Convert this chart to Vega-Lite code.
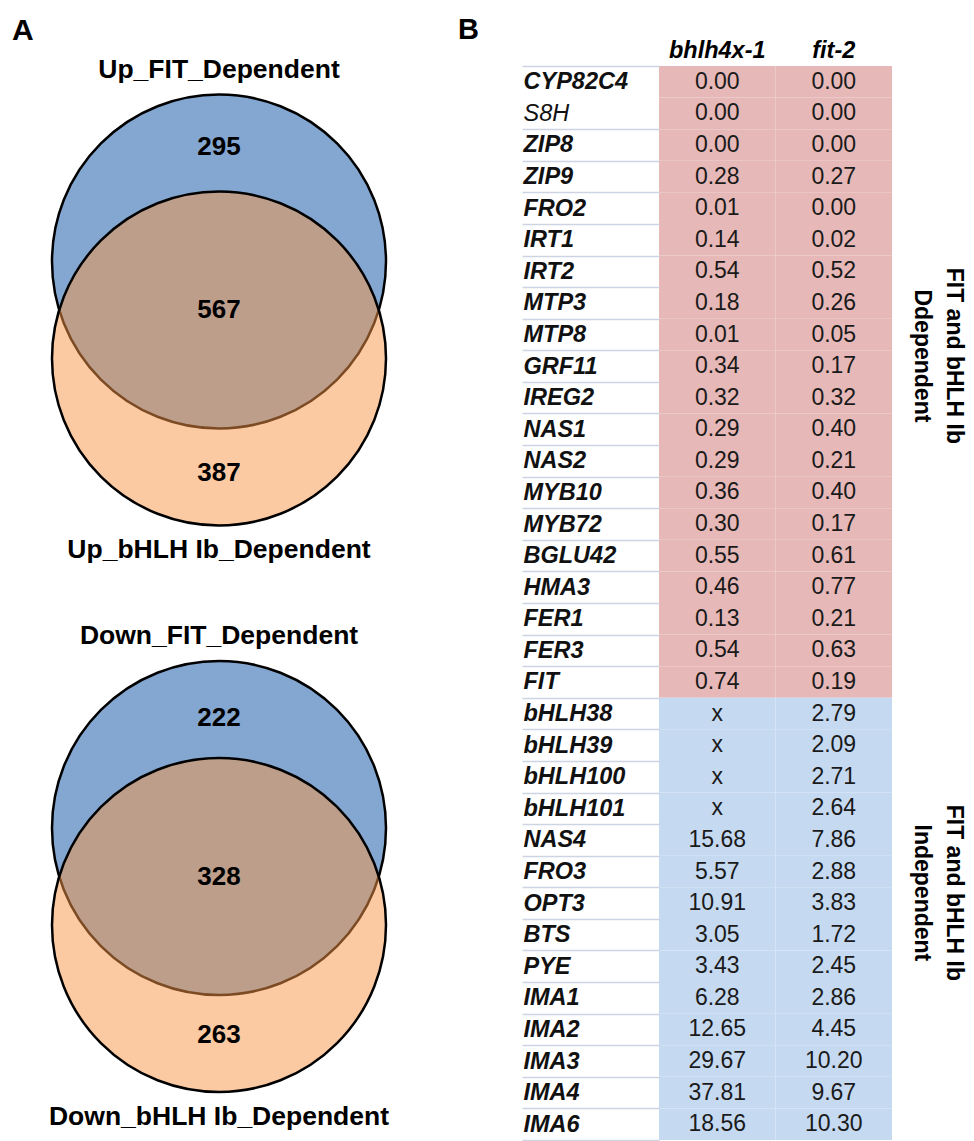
{
  "$schema": "https://vega.github.io/schema/vega-lite/v6.json",
  "padding": {"left": 12, "top": 16, "right": 0, "bottom": 0},
  "background": "white",
  "config": {"font": "Liberation Sans", "view": {"stroke": null}},
  "datasets": {
    "sets": [
      {"diagram": "Up", "set": "FIT", "name": "Up_FIT_Dependent"},
      {"diagram": "Up", "set": "bHLH Ib", "name": "Up_bHLH Ib_Dependent"},
      {"diagram": "Down", "set": "FIT", "name": "Down_FIT_Dependent"},
      {"diagram": "Down", "set": "bHLH Ib", "name": "Down_bHLH Ib_Dependent"}
    ],
    "regions": [
      {"diagram": "Up", "region": "FIT only", "genes": 295},
      {"diagram": "Up", "region": "FIT and bHLH Ib", "genes": 567},
      {"diagram": "Up", "region": "bHLH Ib only", "genes": 387},
      {"diagram": "Down", "region": "FIT only", "genes": 222},
      {"diagram": "Down", "region": "FIT and bHLH Ib", "genes": 328},
      {"diagram": "Down", "region": "bHLH Ib only", "genes": 263}
    ],
    "genes": [
      {"gene": "CYP82C4", "group": "FIT and bHLH Ib\nDdependent", "bhlh4x-1": 0.00, "fit-2": 0.00},
      {"gene": "S8H", "group": "FIT and bHLH Ib\nDdependent", "bhlh4x-1": 0.00, "fit-2": 0.00},
      {"gene": "ZIP8", "group": "FIT and bHLH Ib\nDdependent", "bhlh4x-1": 0.00, "fit-2": 0.00},
      {"gene": "ZIP9", "group": "FIT and bHLH Ib\nDdependent", "bhlh4x-1": 0.28, "fit-2": 0.27},
      {"gene": "FRO2", "group": "FIT and bHLH Ib\nDdependent", "bhlh4x-1": 0.01, "fit-2": 0.00},
      {"gene": "IRT1", "group": "FIT and bHLH Ib\nDdependent", "bhlh4x-1": 0.14, "fit-2": 0.02},
      {"gene": "IRT2", "group": "FIT and bHLH Ib\nDdependent", "bhlh4x-1": 0.54, "fit-2": 0.52},
      {"gene": "MTP3", "group": "FIT and bHLH Ib\nDdependent", "bhlh4x-1": 0.18, "fit-2": 0.26},
      {"gene": "MTP8", "group": "FIT and bHLH Ib\nDdependent", "bhlh4x-1": 0.01, "fit-2": 0.05},
      {"gene": "GRF11", "group": "FIT and bHLH Ib\nDdependent", "bhlh4x-1": 0.34, "fit-2": 0.17},
      {"gene": "IREG2", "group": "FIT and bHLH Ib\nDdependent", "bhlh4x-1": 0.32, "fit-2": 0.32},
      {"gene": "NAS1", "group": "FIT and bHLH Ib\nDdependent", "bhlh4x-1": 0.29, "fit-2": 0.40},
      {"gene": "NAS2", "group": "FIT and bHLH Ib\nDdependent", "bhlh4x-1": 0.29, "fit-2": 0.21},
      {"gene": "MYB10", "group": "FIT and bHLH Ib\nDdependent", "bhlh4x-1": 0.36, "fit-2": 0.40},
      {"gene": "MYB72", "group": "FIT and bHLH Ib\nDdependent", "bhlh4x-1": 0.30, "fit-2": 0.17},
      {"gene": "BGLU42", "group": "FIT and bHLH Ib\nDdependent", "bhlh4x-1": 0.55, "fit-2": 0.61},
      {"gene": "HMA3", "group": "FIT and bHLH Ib\nDdependent", "bhlh4x-1": 0.46, "fit-2": 0.77},
      {"gene": "FER1", "group": "FIT and bHLH Ib\nDdependent", "bhlh4x-1": 0.13, "fit-2": 0.21},
      {"gene": "FER3", "group": "FIT and bHLH Ib\nDdependent", "bhlh4x-1": 0.54, "fit-2": 0.63},
      {"gene": "FIT", "group": "FIT and bHLH Ib\nDdependent", "bhlh4x-1": 0.74, "fit-2": 0.19},
      {"gene": "bHLH38", "group": "FIT and bHLH Ib\nIndependent", "bhlh4x-1": null, "fit-2": 2.79},
      {"gene": "bHLH39", "group": "FIT and bHLH Ib\nIndependent", "bhlh4x-1": null, "fit-2": 2.09},
      {"gene": "bHLH100", "group": "FIT and bHLH Ib\nIndependent", "bhlh4x-1": null, "fit-2": 2.71},
      {"gene": "bHLH101", "group": "FIT and bHLH Ib\nIndependent", "bhlh4x-1": null, "fit-2": 2.64},
      {"gene": "NAS4", "group": "FIT and bHLH Ib\nIndependent", "bhlh4x-1": 15.68, "fit-2": 7.86},
      {"gene": "FRO3", "group": "FIT and bHLH Ib\nIndependent", "bhlh4x-1": 5.57, "fit-2": 2.88},
      {"gene": "OPT3", "group": "FIT and bHLH Ib\nIndependent", "bhlh4x-1": 10.91, "fit-2": 3.83},
      {"gene": "BTS", "group": "FIT and bHLH Ib\nIndependent", "bhlh4x-1": 3.05, "fit-2": 1.72},
      {"gene": "PYE", "group": "FIT and bHLH Ib\nIndependent", "bhlh4x-1": 3.43, "fit-2": 2.45},
      {"gene": "IMA1", "group": "FIT and bHLH Ib\nIndependent", "bhlh4x-1": 6.28, "fit-2": 2.86},
      {"gene": "IMA2", "group": "FIT and bHLH Ib\nIndependent", "bhlh4x-1": 12.65, "fit-2": 4.45},
      {"gene": "IMA3", "group": "FIT and bHLH Ib\nIndependent", "bhlh4x-1": 29.67, "fit-2": 10.20},
      {"gene": "IMA4", "group": "FIT and bHLH Ib\nIndependent", "bhlh4x-1": 37.81, "fit-2": 9.67},
      {"gene": "IMA6", "group": "FIT and bHLH Ib\nIndependent", "bhlh4x-1": 18.56, "fit-2": 10.30}
    ]
  },
  "spacing": 32,
  "resolve": {"scale": {"color": "independent", "fillOpacity": "independent"}},
  "hconcat": [
    {
      "title": {"text": "A", "anchor": "start", "frame": "group", "fontSize": 30, "fontWeight": "bold", "color": "#000000", "offset": 10.5},
      "spacing": 58.5,
      "vconcat": [
        {
          "width": 414,
          "height": 488,
          "resolve": {"scale": {"y": "independent", "yOffset": "independent"}},
          "layer": [
            {
              "data": {"name": "sets"},
              "transform": [{"filter": "datum.diagram === 'Up'"}],
              "mark": {"type": "point", "shape": "circle", "filled": true, "opacity": 1, "size": 111556, "stroke": "#000000", "strokeWidth": 2.5, "strokeOpacity": 1},
              "encoding": {
                "y": {"field": "diagram", "type": "nominal", "scale": {"type": "band", "paddingInner": 0, "paddingOuter": 1}, "axis": null},
                "yOffset": {"field": "set", "type": "nominal", "scale": {"type": "point", "domain": ["FIT", "bHLH Ib"], "padding": 0.3385}},
                "color": {"field": "set", "type": "nominal", "scale": {"domain": ["FIT", "bHLH Ib"], "range": ["#4F81BD", "#F79646"]}, "legend": null},
                "fillOpacity": {"field": "set", "type": "ordinal", "scale": {"domain": ["FIT", "bHLH Ib"], "range": [0.7, 0.5]}, "legend": null}
              }
            },
            {
              "data": {"name": "sets"},
              "transform": [{"filter": "datum.diagram === 'Up'"}],
              "mark": {"type": "text", "fontSize": 26.5, "fontWeight": "bold", "color": "#000000"},
              "encoding": {
                "y": {"field": "set", "type": "nominal", "scale": {"type": "point", "domain": ["FIT", "bHLH Ib"], "padding": 0.0073}, "axis": null},
                "text": {"field": "name", "type": "nominal"}
              }
            },
            {
              "data": {"name": "regions"},
              "transform": [{"filter": "datum.diagram === 'Up'"}],
              "mark": {"type": "text", "fontSize": 26, "fontWeight": "bold", "color": "#000000"},
              "encoding": {
                "y": {"field": "region", "type": "nominal", "scale": {"type": "point", "domain": ["FIT only", "FIT and bHLH Ib", "bHLH Ib only"], "padding": 0.5}, "axis": null},
                "text": {"field": "genes", "type": "quantitative"}
              }
            }
          ]
        },
        {
          "width": 414,
          "height": 488,
          "resolve": {"scale": {"y": "independent", "yOffset": "independent"}},
          "layer": [
            {
              "data": {"name": "sets"},
              "transform": [{"filter": "datum.diagram === 'Down'"}],
              "mark": {"type": "point", "shape": "circle", "filled": true, "opacity": 1, "size": 111556, "stroke": "#000000", "strokeWidth": 2.5, "strokeOpacity": 1},
              "encoding": {
                "y": {"field": "diagram", "type": "nominal", "scale": {"type": "band", "paddingInner": 0, "paddingOuter": 1}, "axis": null},
                "yOffset": {"field": "set", "type": "nominal", "scale": {"type": "point", "domain": ["FIT", "bHLH Ib"], "padding": 0.3385}},
                "color": {"field": "set", "type": "nominal", "scale": {"domain": ["FIT", "bHLH Ib"], "range": ["#4F81BD", "#F79646"]}, "legend": null},
                "fillOpacity": {"field": "set", "type": "ordinal", "scale": {"domain": ["FIT", "bHLH Ib"], "range": [0.7, 0.5]}, "legend": null}
              }
            },
            {
              "data": {"name": "sets"},
              "transform": [{"filter": "datum.diagram === 'Down'"}],
              "mark": {"type": "text", "fontSize": 26.5, "fontWeight": "bold", "color": "#000000"},
              "encoding": {
                "y": {"field": "set", "type": "nominal", "scale": {"type": "point", "domain": ["FIT", "bHLH Ib"], "padding": 0.0073}, "axis": null},
                "text": {"field": "name", "type": "nominal"}
              }
            },
            {
              "data": {"name": "regions"},
              "transform": [{"filter": "datum.diagram === 'Down'"}],
              "mark": {"type": "text", "fontSize": 26, "fontWeight": "bold", "color": "#000000"},
              "encoding": {
                "y": {"field": "region", "type": "nominal", "scale": {"type": "point", "domain": ["FIT only", "FIT and bHLH Ib", "bHLH Ib only"], "padding": 0.535}, "axis": null},
                "text": {"field": "genes", "type": "quantitative"}
              }
            }
          ]
        }
      ]
    },
    {
      "bounds": "flush",
      "spacing": 47,
      "hconcat": [
        {
          "width": 233,
          "height": 1074,
          "title": {"text": "B", "anchor": "start", "frame": "group", "dx": -201, "fontSize": 29, "fontWeight": "bold", "color": "#000000", "offset": -7},
          "data": {"name": "genes"},
          "transform": [{"fold": ["bhlh4x-1", "fit-2"], "as": ["line", "fc"]}],
          "encoding": {
            "y": {
              "field": "gene", "type": "nominal", "sort": null,
              "scale": {"type": "band", "paddingInner": 0, "paddingOuter": 0},
              "axis": {
                "title": null, "domain": false, "tickBand": "extent", "tickSize": 137, "tickColor": "#CDD4E4", "tickWidth": 1.5,
                "tickOpacity": {"condition": {"test": "datum.value === 'CYP82C4'", "value": 0}, "value": 1},
                "labelAlign": "left", "labelPadding": -1, "labelFontSize": 23.5, "labelFontStyle": "italic",
                "labelFontWeight": {"condition": {"test": "datum.value === 'S8H'", "value": "normal"}, "value": "bold"},
                "labelColor": "#111111", "labelOverlap": false, "labelBaseline": "middle", "labelLimit": 0
              }
            },
            "x": {
              "field": "line", "type": "nominal", "sort": ["bhlh4x-1", "fit-2"],
              "scale": {"type": "band", "paddingInner": 0, "paddingOuter": 0},
              "axis": {
                "orient": "top", "title": null, "domain": false, "ticks": false, "labelPadding": 4, "labelAngle": 0,
                "labelFontSize": 23.5, "labelFontWeight": "bold", "labelFontStyle": "italic", "labelColor": "#000000"
              }
            }
          },
          "layer": [
            {
              "mark": {"type": "rect"},
              "encoding": {
                "color": {"field": "group", "type": "nominal", "scale": {"domain": ["FIT and bHLH Ib\nDdependent", "FIT and bHLH Ib\nIndependent"], "range": ["#E6B8B7", "#C5D9F1"]}, "legend": null}
              }
            },
            {
              "mark": {"type": "text", "fontSize": 23, "color": "#1a1a1a"},
              "encoding": {
                "text": {"condition": {"test": "datum.fc === null", "value": "x"}, "field": "fc", "type": "quantitative", "format": ".2f"}
              }
            }
          ]
        },
        {
          "width": 30,
          "height": 1074,
          "data": {"name": "genes"},
          "transform": [
            {"window": [{"op": "row_number", "as": "row"}]},
            {"aggregate": [{"op": "mean", "field": "row", "as": "row"}], "groupby": ["group"]}
          ],
          "mark": {"type": "text", "angle": 90, "dx": -26, "fontSize": 23, "fontWeight": "bold", "lineBreak": "\n", "lineHeight": 32, "align": "center", "baseline": "middle", "color": "#000000"},
          "encoding": {
            "y": {"field": "row", "type": "quantitative", "scale": {"domain": [0.5, 34.5], "reverse": true, "zero": false, "nice": false}, "axis": null},
            "text": {"field": "group", "type": "nominal"}
          }
        }
      ]
    }
  ]
}
